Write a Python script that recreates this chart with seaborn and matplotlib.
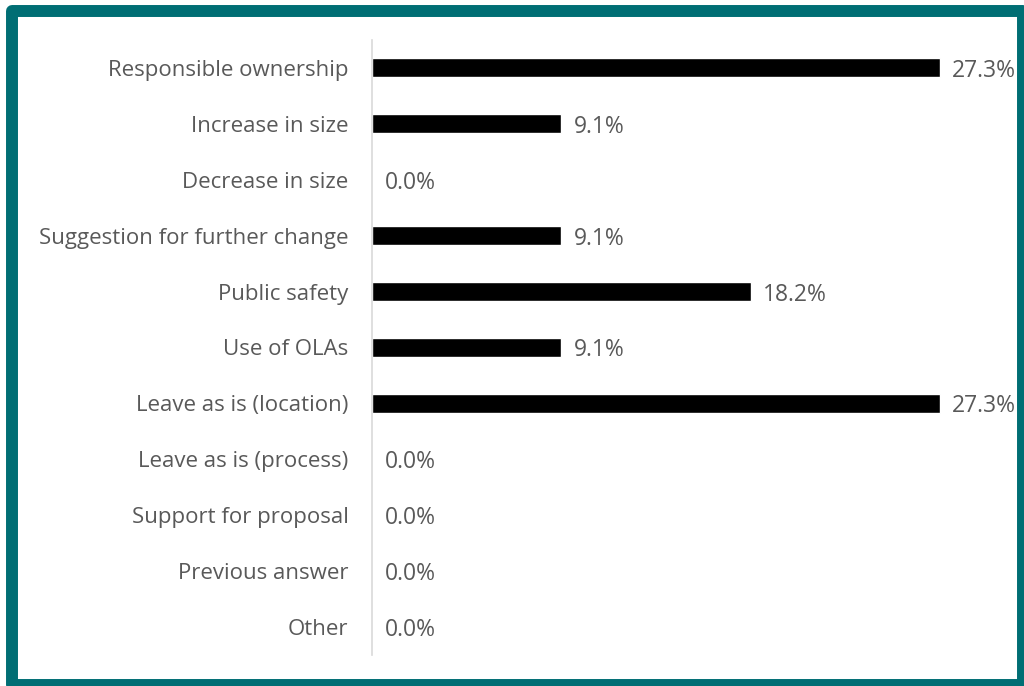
import numpy as np
import pandas as pd
import matplotlib
matplotlib.use("Agg")
import matplotlib.pyplot as plt
import seaborn as sns
from matplotlib.patches import Rectangle

categories = [
    "Responsible ownership",
    "Increase in size",
    "Decrease in size",
    "Suggestion for further change",
    "Public safety",
    "Use of OLAs",
    "Leave as is (location)",
    "Leave as is (process)",
    "Support for proposal",
    "Previous answer",
    "Other",
]
percentages = [27.3, 9.1, 0.0, 9.1, 18.2, 9.1, 27.3, 0.0, 0.0, 0.0, 0.0]

df = pd.DataFrame({"category": categories, "pct": percentages})

sns.set_theme(style="white")
plt.rcParams["font.family"] = ["Open Sans", "DejaVu Sans"]

text_color = "#595959"

fig = plt.figure(figsize=(10.24, 6.86), dpi=100)
ax = fig.add_axes([372 / 1024, 31 / 686, 628 / 1024, 615 / 686])

sns.barplot(data=df, y="category", x="pct", orient="h", color="black",
            width=0.34, ax=ax, saturation=1)

ax.set_xlim(0, 628 / 20.8)
ax.set_ylim(len(categories) - 0.5, -0.5)
ax.set_xlabel("")
ax.set_ylabel("")
ax.set_xticks([])
ax.tick_params(axis="y", length=0, pad=17, labelsize=16, labelcolor=text_color)

for s in ["top", "right", "bottom"]:
    ax.spines[s].set_visible(False)
ax.spines["left"].set_color("#d9d9d9")
ax.spines["left"].set_linewidth(1.2)

for container in ax.containers:
    labels = ax.bar_label(container, labels=[f"{v:.1f}%" for v in percentages],
                          padding=9, fontsize=16.5, color=text_color)
    for t in labels:
        t.set_va("center_baseline")

# teal frame around the whole chart
frame = Rectangle((12 / 1024, 1 / 686), 1011 / 1024, 674 / 686,
                  transform=fig.transFigure, fill=False,
                  edgecolor="#006e74", linewidth=8.6, joinstyle="round",
                  clip_on=False)
fig.patches.append(frame)

fig.savefig("out.png", dpi=100)
